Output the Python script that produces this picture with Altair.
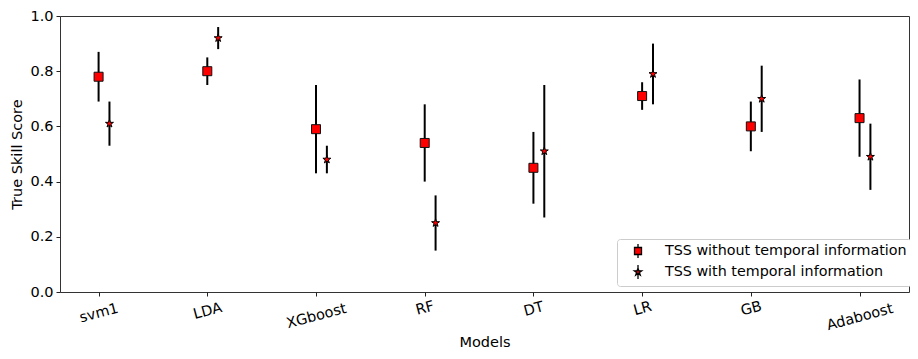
import altair as alt
import pandas as pd

models = ["svm1", "LDA", "XGboost", "RF", "DT", "LR", "GB", "Adaboost"]
tss_without = [0.78, 0.80, 0.59, 0.54, 0.45, 0.71, 0.60, 0.63]
err_without = [0.09, 0.05, 0.16, 0.14, 0.13, 0.05, 0.09, 0.14]
tss_with = [0.61, 0.92, 0.48, 0.25, 0.51, 0.79, 0.70, 0.49]
err_with = [0.08, 0.04, 0.05, 0.10, 0.24, 0.11, 0.12, 0.12]
series = ["TSS without temporal information", "TSS with temporal information"]
x_offsets = [0.0, 0.1]
y_ticks = [0.0, 0.2, 0.4, 0.6, 0.8, 1.0]

rows = []
for s_i, (name, vals, errs) in enumerate(
    [(series[0], tss_without, err_without), (series[1], tss_with, err_with)]
):
    for i, m in enumerate(models):
        rows.append({
            "model": m,
            "pos": i + x_offsets[s_i],
            "series": name,
            "tss": vals[i],
            "lo": vals[i] - errs[i],
            "hi": vals[i] + errs[i],
        })
df = pd.DataFrame(rows)

FONT = "DejaVu Sans"
STAR = ("M0,-1L0.225,-0.309L0.951,-0.309L0.363,0.118L0.588,0.809L0,0.382"
        "L-0.588,0.809L-0.363,0.118L-0.951,-0.309L-0.225,-0.309Z")
SQ_LEG = "M-0.5,-0.5L0.5,-0.5L0.5,0.5L-0.5,0.5Z M0,-1L0,-0.5 M0,0.5L0,1"
STAR_LEG = ("M0,-0.55L0.124,-0.17L0.523,-0.17L0.2,0.065L0.323,0.445L0,0.21"
            "L-0.323,0.445L-0.2,0.065L-0.523,-0.17L-0.124,-0.17Z M0,-1L0,-0.55 M0,0.3L0,1")

label_js = "[" + ",".join("'" + m + "'" for m in models) + "]"
pads = [17, 15, 20, 12, 13, 12.5, 12.5, 21]
pad_cond = {
    "condition": [{"test": f"datum.value == {i}", "value": p} for i, p in enumerate(pads)],
    "value": 14,
}

x_enc = alt.X(
    "pos:Q",
    scale=alt.Scale(domain=[-0.355, 7.455], nice=False, zero=False),
    axis=alt.Axis(
        values=list(range(len(models))),
        labelExpr=label_js + "[datum.value]",
        title="Models",
        grid=False,
        domain=False,
        tickSize=4,
        tickColor="#222",
        labelAngle=345,
        labelAlign="center",
        labelBaseline="middle",
        labelPadding=pad_cond,
        labelFontSize=14.5,
        titleFontSize=14.5,
        titlePadding=3,
        labelOverlap=False,
    ),
)
y_enc = alt.Y(
    "tss:Q",
    scale=alt.Scale(domain=[0, 1], nice=False, zero=False),
    axis=alt.Axis(
        values=y_ticks,
        format=".1f",
        title="True Skill Score",
        grid=False,
        domain=False,
        tickSize=4,
        tickColor="#222",
        labelPadding=3,
        labelFontSize=14.5,
        titleFontSize=14.5,
        titlePadding=5,
    ),
)

base = alt.Chart(df)

bars = base.mark_rule(color="black", strokeWidth=2).encode(
    x=x_enc, y=alt.Y("lo:Q"), y2="hi:Q"
)
squares = base.transform_filter(alt.datum.series == series[0]).mark_point(
    shape="square", filled=True, fill="red", stroke="#111", strokeWidth=1, size=81, opacity=1
).encode(x=x_enc, y=y_enc)
stars = base.transform_filter(alt.datum.series == series[1]).mark_point(
    shape=STAR, filled=True, fill="red", stroke="black", strokeWidth=1, size=70, opacity=1
).encode(x=x_enc, y=y_enc)
legend_layer = base.transform_filter("false").mark_point(
    filled=True, fill="red", stroke="black", strokeWidth=1.3, opacity=1
).encode(
    x=x_enc,
    y=y_enc,
    shape=alt.Shape(
        "series:N",
        scale=alt.Scale(domain=series, range=[SQ_LEG, STAR_LEG]),
        legend=alt.Legend(
            title=None,
            orient="none",
            legendX=557,
            legendY=223,
            padding=4,
            symbolOffset=9,
            symbolSize=196,
            symbolStrokeWidth=1.3,
            labelFontSize=14.3,
            labelFont=FONT,
            labelColor="black",
            labelOffset=19,
            labelLimit=400,
            rowPadding=1,
            strokeColor="#cccccc",
            fillColor="white",
            cornerRadius=3,
        ),
    ),
)

chart = (
    alt.layer(bars, squares, stars, legend_layer)
    .properties(
        width=849,
        height=276,
        autosize=alt.AutoSizeParams(type="none"),
        padding={"left": 52, "top": 8, "right": 1, "bottom": 59},
    )
    .configure(font=FONT)
    .configure_view(stroke="#333", strokeWidth=1)
    .configure_axis(
        labelFont=FONT,
        titleFont=FONT,
        labelColor="black",
        titleColor="black",
        titleFontWeight="normal",
        tickWidth=1,
    )
)

chart.save("out.html", embed_options={"renderer": "svg", "actions": False})
